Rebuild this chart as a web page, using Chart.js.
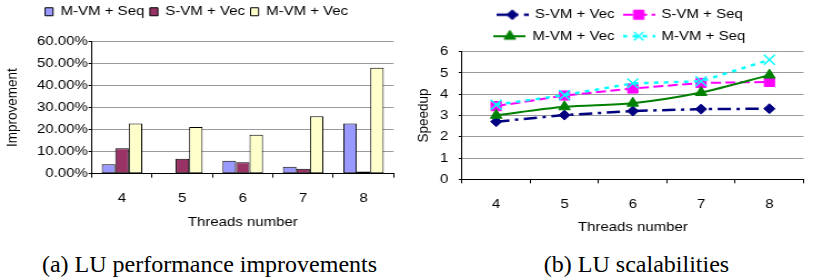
<!DOCTYPE html>
<html><head><meta charset="utf-8">
<script src="https://cdn.jsdelivr.net/npm/chart.js@4/dist/chart.umd.min.js"></script>
<style>
html,body{margin:0;padding:0;background:#fff;width:813px;height:280px;overflow:hidden}
.wrap{position:absolute;top:0;transform-origin:0 0}
.cap{position:absolute;top:252px;font-family:"Liberation Serif","Times New Roman",serif;font-size:24px;line-height:24px;color:#000;white-space:nowrap;transform:translateX(-50%)}
</style></head><body>
<div class="wrap" id="wa" style="left:0"><canvas id="ca"></canvas></div>
<div class="wrap" id="wb" style="left:410px"><canvas id="cb"></canvas></div>
<div class="cap" style="left:209.5px">(a) LU performance improvements</div>
<div class="cap" style="left:636.5px">(b) LU scalabilities</div>
<script>
// ---- data ----
const threads = ['4', '5', '6', '7', '8'];

const barSeriesNames = ['M-VM + Seq', 'S-VM + Vec', 'M-VM + Vec'];
const impMvmSeq = [4.3, 0, 5.9, 3.2, 22.8];
const impSvmVec = [11.6, 6.8, 5.2, 2.3, 1.0];
const impMvmVec = [22.8, 21.2, 17.7, 26.1, 48.2];
const impTickLabels = ['0.00%', '10.00%', '20.00%', '30.00%', '40.00%', '50.00%', '60.00%'];

const lineSeriesNames = ['S-VM + Vec', 'S-VM + Seq', 'M-VM + Vec', 'M-VM + Seq'];
const spdSvmVec = [2.71, 3.02, 3.21, 3.30, 3.32];
const spdSvmSeq = [3.44, 3.94, 4.27, 4.53, 4.58];
const spdMvmVec = [3.01, 3.41, 3.58, 4.08, 4.90];
const spdMvmSeq = [3.51, 3.96, 4.51, 4.61, 5.62];
const spdTickLabels = ['0', '1', '2', '3', '4', '5', '6'];

// ---- setup ----
const S = 1.11;          // horizontal stretch of the original figure
const FS = 13.5;         // font size
const LH = FS * 1.2;
Chart.defaults.font.family = '"Liberation Sans", Arial, sans-serif';
Chart.defaults.font.size = FS;
Chart.defaults.color = '#000';

function setupCanvas(wrapId, canvasId, pageW, h) {
  const w = pageW / S;
  const wrap = document.getElementById(wrapId);
  const cv = document.getElementById(canvasId);
  cv.width = Math.round(w); cv.height = h;
  wrap.style.width = Math.round(w) + 'px';
  wrap.style.height = h + 'px';
  wrap.style.transform = 'scaleX(' + (pageW / Math.round(w)) + ')';
  return Math.round(w);
}

function legendTune(h, targetPageX, mw) {
  return {
    id: 'legendTune',
    beforeInit(chart) {
      const lg = chart.legend;
      const fit = lg.fit;
      lg.fit = function () {
        if (mw) this.maxWidth = Math.min(this.maxWidth, mw);
        fit.call(this);
        this.height = h;
      };
    },
    afterLayout(chart) {
      const lg = chart.legend;
      const pad = lg.options.labels.padding;
      const cur = (lg.left + pad + lg.right - lg.lineWidths[0]) / 2;
      const dx = targetPageX / S - cur;
      lg.left += dx; lg.right += dx;
    }
  };
}

// ---- chart (a) ----
const HA = 232;
const WA = setupCanvas('wa', 'ca', 410, HA);
const aLeft = 91.7 / S, aRight = 393.3 / S, aBottom = 173.7, aTop = 41.7;

new Chart(document.getElementById('ca'), {
  type: 'bar',
  data: {
    labels: threads,
    datasets: [
      { label: barSeriesNames[0], data: impMvmSeq, backgroundColor: '#9999FF' },
      { label: barSeriesNames[1], data: impSvmVec, backgroundColor: '#993366' },
      { label: barSeriesNames[2], data: impMvmVec, backgroundColor: '#FFFFCC' }
    ]
  },
  options: {
    responsive: false, animation: false, devicePixelRatio: 1,
    layout: { padding: { left: 0, right: WA - aRight, top: 0, bottom: 0 } },
    datasets: { bar: { categoryPercentage: 0.67, barPercentage: 1, borderColor: '#000', borderWidth: 1, borderSkipped: false } },
    plugins: {
      legend: { labels: { boxWidth: 8 / S, boxHeight: 8, padding: 5, color: '#000' } },
      tooltip: { enabled: false }
    },
    scales: {
      x: {
        grid: { drawOnChartArea: false, tickLength: 4, tickColor: '#000', offset: true },
        border: { color: '#000' },
        ticks: { padding: 12.5 },
        title: { display: true, text: 'Threads number', padding: { top: 0, bottom: HA - 222.5 - LH / 2 } },
        afterFit(s) { s.height = HA - aBottom; }
      },
      y: {
        min: 0, max: 60,
        ticks: { stepSize: 10, padding: 87.7 > 0 ? (aLeft - 87.7 / S - 3) : 1, callback: (v, i) => impTickLabels[i] },
        grid: { color: c => (c.tick && c.tick.value === 0) ? '#000' : '#9a9a9a', tickLength: 3, tickColor: '#000' },
        border: { color: '#000' },
        title: { display: true, text: 'Improvement', padding: { top: 12 / S - LH / 2, bottom: 0 } },
        afterFit(s) { s.width = aLeft; }
      }
    }
  },
  plugins: [legendTune(aTop, 45, 0)]
});

// ---- chart (b) ----
const HB = 237;
const WB = setupCanvas('wb', 'cb', 403, HB);
const bLeft = 52 / S, bBottom = 179.3, bTop = 51.7;

function sample(color, dash, width, style, r, bw) {
  const c = document.createElement('canvas');
  c.width = 29; c.height = 14;
  const g = c.getContext('2d');
  g.strokeStyle = color; g.fillStyle = color; g.lineWidth = width;
  g.setLineDash(dash);
  g.beginPath(); g.moveTo(0, 7); g.lineTo(29, 7); g.stroke();
  g.setLineDash([]);
  g.lineWidth = bw;
  Chart.helpers.drawPoint(g, { pointStyle: style, radius: r, rotation: 0, borderWidth: bw }, 14.5, 7);
  return c;
}
const lineStyles = [
  { color: '#000080', dash: [12, 5, 3, 5], width: 2.5, style: 'rectRot', r: 5, bw: 1 },
  { color: '#FF00FF', dash: [9, 4], width: 2, style: 'rect', r: 6.5, bw: 1 },
  { color: '#008000', dash: [], width: 2, style: 'triangle', r: 6, bw: 1 },
  { color: '#00FFFF', dash: [4, 5], width: 2.5, style: 'crossRot', r: 6, bw: 1.5 }
];
const samples = lineStyles.map(s => sample(s.color, s.dash, s.width, s.style, s.r, s.bw));
const lineData = [spdSvmVec, spdSvmSeq, spdMvmVec, spdMvmSeq];
const orders = [4, 3, 2, 1];
const tensions = [0, 0, 0.3, 0];

new Chart(document.getElementById('cb'), {
  type: 'line',
  data: {
    labels: threads,
    datasets: lineSeriesNames.map((name, i) => ({
      label: name,
      data: lineData[i],
      borderColor: lineStyles[i].color,
      backgroundColor: lineStyles[i].color,
      borderWidth: lineStyles[i].width,
      borderDash: lineStyles[i].dash,
      pointStyle: lineStyles[i].style,
      pointRadius: lineStyles[i].r + (i === 3 ? 1 : 0),
      pointBorderWidth: lineStyles[i].bw,
      pointBackgroundColor: lineStyles[i].color,
      pointBorderColor: lineStyles[i].color,
      tension: tensions[i],
      order: orders[i],
      fill: false
    }))
  },
  options: {
    responsive: false, animation: false, devicePixelRatio: 1,
    layout: { padding: 0 },
    plugins: {
      legend: {
        labels: {
          usePointStyle: true, pointStyleWidth: 38 / S - FS / 2, padding: 8, color: '#000',
          sort: (a, b) => a.datasetIndex - b.datasetIndex,
          generateLabels(chart) {
            const items = Chart.defaults.plugins.legend.labels.generateLabels(chart);
            items.forEach(it => { it.pointStyle = samples[it.datasetIndex]; });
            return items;
          }
        }
      },
      tooltip: { enabled: false }
    },
    scales: {
      x: {
        offset: true,
        grid: { drawOnChartArea: false, tickLength: 4, tickColor: '#000', offset: true },
        border: { color: '#000' },
        ticks: { padding: 12.5 },
        title: { display: true, text: 'Threads number', padding: { top: 0, bottom: HB - 227.5 - LH / 2 } },
        afterFit(s) { s.height = HB - bBottom; }
      },
      y: {
        min: 0, max: 6,
        ticks: { stepSize: 1, padding: bLeft - 38.3 / S - 3, callback: (v, i) => spdTickLabels[i] },
        grid: { color: c => (c.tick && c.tick.value === 0) ? '#000' : '#9a9a9a', tickLength: 3, tickColor: '#000' },
        border: { color: '#000' },
        title: { display: true, text: 'Speedup', padding: { top: 14 / S - LH / 2, bottom: 0 } },
        afterFit(s) { s.width = bLeft; }
      }
    }
  },
  plugins: [legendTune(bTop, 87, 300)]
});
</script>
</body></html>
